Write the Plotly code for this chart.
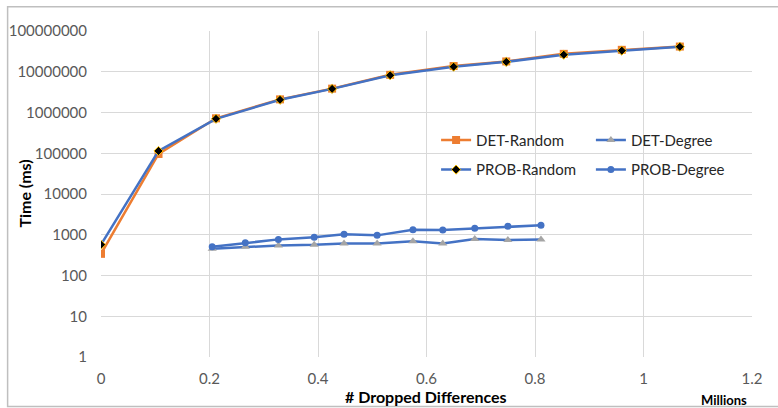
import plotly.graph_objects as go

# ---- data ----
x_random = [0, 0.106, 0.212, 0.33, 0.426, 0.533, 0.65, 0.747, 0.853, 0.96, 1.067]
det_random = [340, 96000, 720000, 2100000, 3850000, 8400000, 13800000, 17900000, 27500000, 34500000, 41500000]
prob_random = [570, 114000, 700000, 2050000, 3800000, 8200000, 13300000, 17500000, 26200000, 33000000, 41000000]

x_degree = [0.205, 0.266, 0.327, 0.393, 0.448, 0.509, 0.575, 0.630, 0.689, 0.750, 0.811]
det_degree = [452, 506, 548, 567, 614, 614, 688, 614, 784, 740, 770]
prob_degree = [506, 635, 770, 863, 1023, 966, 1328, 1310, 1438, 1610, 1705]

y_tickvals = [1, 10, 100, 1000, 10000, 100000, 1000000, 10000000, 100000000]
y_ticktext = ["1", "10", "100", "1000", "10000", "100000", "1000000", "10000000", "100000000"]
x_tickvals = [0, 0.2, 0.4, 0.6, 0.8, 1.0, 1.2]
x_ticktext = ["0", "0.2", "0.4", "0.6", "0.8", "1", "1.2"]

BLUE = "#4472C4"
ORANGE = "#ED7D31"
GRAY = "#A5A5A5"
FONT = "Lato"

W, H = 778, 408
ML, MR, MT, MB = 100.5, 25.7, 31.3, 51.3
PW, PH = W - ML - MR, H - MT - MB


def px_x(px):
    return (px - ML) / PW


def px_y(py):
    return (H - MB - py) / PH


fig = go.Figure()
fig.add_trace(go.Scatter(
    x=x_random, y=det_random, name="DET-Random", mode="lines+markers",
    line=dict(color=ORANGE, width=2.5),
    marker=dict(symbol="square", size=8, color=ORANGE),
    legend="legend", legendgroup="a"))
fig.add_trace(go.Scatter(
    x=x_degree, y=det_degree, name="DET-Degree", mode="lines+markers",
    line=dict(color=BLUE, width=2.5),
    marker=dict(symbol="triangle-up", size=8, color=GRAY),
    legend="legend2", legendgroup="b"))
fig.add_trace(go.Scatter(
    x=x_random, y=prob_random, name="PROB-Random", mode="lines+markers",
    line=dict(color=BLUE, width=2.5),
    marker=dict(symbol="diamond", size=7, color="black", line=dict(color="#FFC000", width=1)),
    legend="legend", legendgroup="c"))
fig.add_trace(go.Scatter(
    x=x_degree, y=prob_degree, name="PROB-Degree", mode="lines+markers",
    line=dict(color=BLUE, width=2.5),
    marker=dict(symbol="circle", size=7, color=BLUE),
    legend="legend2", legendgroup="d"))

legend_common = dict(
    orientation="v", xanchor="left", yanchor="top",
    bgcolor="rgba(0,0,0,0)", borderwidth=0,
    font=dict(family=FONT, size=15, color="#262626"),
    tracegroupgap=7, itemwidth=30,
)

fig.update_layout(
    width=W, height=H,
    margin=dict(l=ML, r=MR, t=MT, b=MB, autoexpand=False),
    paper_bgcolor="white", plot_bgcolor="white",
    font=dict(family=FONT, size=15, color="#595959"),
    showlegend=True,
    legend=dict(x=px_x(436), y=px_y(124), **legend_common),
    legend2=dict(x=px_x(591), y=px_y(124), **legend_common),
    xaxis=dict(
        range=[0, 1.2], tickvals=x_tickvals, ticktext=x_ticktext,
        showgrid=True, gridcolor="#D9D9D9", gridwidth=1,
        zeroline=False, showline=False, ticks="", automargin=False,
        tickfont=dict(family=FONT, size=15, color="#595959"),
        ticklabelstandoff=11,
    ),
    yaxis=dict(
        type="log", range=[0, 8], tickvals=y_tickvals, ticktext=y_ticktext,
        showgrid=True, gridcolor="#D9D9D9", gridwidth=1,
        zeroline=False, showline=False, ticks="", automargin=False,
        tickfont=dict(family=FONT, size=15, color="#595959"),
        ticklabelstandoff=13,
    ),
    annotations=[
        dict(text="<b>Time (ms)</b>", xref="paper", yref="paper",
             x=px_x(23), y=px_y(194), showarrow=False, textangle=-90,
             font=dict(family=FONT, size=16, color="black"),
             xanchor="center", yanchor="middle"),
        dict(text="<b># Dropped Differences</b>", xref="paper", yref="paper",
             x=px_x(426), y=px_y(396), showarrow=False,
             font=dict(family=FONT, size=16, color="black"),
             xanchor="center", yanchor="middle"),
        dict(text="<b>Millions</b>", xref="paper", yref="paper",
             x=px_x(724.5), y=px_y(400), showarrow=False,
             font=dict(family=FONT, size=13, color="black"),
             xanchor="center", yanchor="middle"),
    ],
    shapes=[
        dict(type="rect", xref="paper", yref="paper",
             x0=px_x(7), x1=px_x(800), y0=px_y(406), y1=px_y(7),
             line=dict(color="#BFBFBF", width=1.5), fillcolor="rgba(0,0,0,0)",
             layer="below"),
    ],
)

fig.write_html(
    "out.html",
    config={"displayModeBar": False},
    post_script="document.body.style.margin='0';document.body.style.overflow='hidden';",
)
